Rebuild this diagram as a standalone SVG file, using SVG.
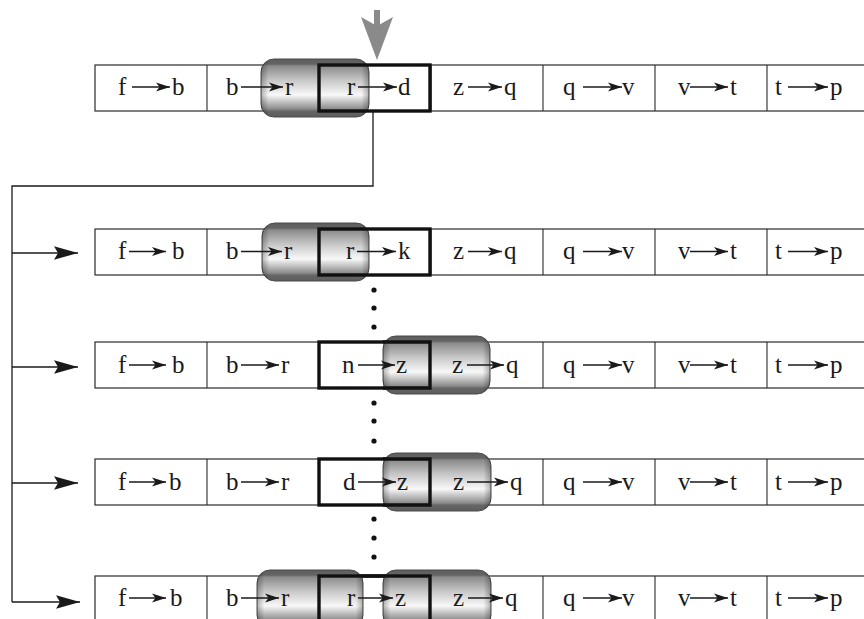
<svg xmlns="http://www.w3.org/2000/svg" width="864" height="619" viewBox="0 0 864 619">
  <defs>
    <style>
      .row { fill: #ffffff; stroke: #2a2a2a; stroke-width: 1.2; }
      .div { stroke: #2a2a2a; stroke-width: 1.1; }
      .cur { fill: none; stroke: #111; stroke-width: 3.4; }
      .shade { fill: url(#metal); stroke: #4a4a4a; stroke-width: 1; }
      .edge { fill: url(#rim); }
      .lbl { font-family: "Liberation Serif", "Times New Roman", serif; font-size: 25px; fill: #1a1a1a; }
      .ar { stroke: #1a1a1a; stroke-width: 1.3; fill: none; marker-end: url(#tip); }
      .link { stroke: #1a1a1a; stroke-width: 1.3; fill: none; }
      .feed { stroke: #1a1a1a; stroke-width: 1.3; fill: none; marker-end: url(#big); }
      .dot { fill: #111; }
    </style>
    <linearGradient id="metal" x1="0" y1="0" x2="0" y2="1">
      <stop offset="0" stop-color="#5c5c5c"/>
      <stop offset="0.09" stop-color="#656565"/>
      <stop offset="0.12" stop-color="#8a8a8a"/>
      <stop offset="0.38" stop-color="#cacaca"/>
      <stop offset="0.62" stop-color="#f8f8f8"/>
      <stop offset="0.86" stop-color="#8c8c8c"/>
      <stop offset="0.9" stop-color="#666666"/>
      <stop offset="1" stop-color="#5c5c5c"/>
    </linearGradient>
    <linearGradient id="rim" x1="0" y1="0" x2="1" y2="0">
      <stop offset="0" stop-color="#000" stop-opacity="0.28"/>
      <stop offset="0.07" stop-color="#000" stop-opacity="0"/>
      <stop offset="0.93" stop-color="#000" stop-opacity="0"/>
      <stop offset="1" stop-color="#000" stop-opacity="0.28"/>
    </linearGradient>
    <marker id="tip" viewBox="-15 -5 16 10" refX="0" refY="0" markerWidth="16" markerHeight="10" markerUnits="userSpaceOnUse" orient="auto">
      <path d="M0,0 L-14,-4.5 L-10.5,0 L-14,4.5 Z" fill="#1a1a1a"/>
    </marker>
    <marker id="big" viewBox="-25 -8 26 16" refX="0" refY="0" markerWidth="26" markerHeight="16" markerUnits="userSpaceOnUse" orient="auto">
      <path d="M0,0 L-24,-6.8 L-20,0 L-24,6.8 Z" fill="#1a1a1a"/>
    </marker>
  </defs>

  <!-- pointer into the first sequence -->
  <g id="pointer">
    <rect x="374" y="10" width="6" height="16" fill="#8a8a8a"/>
    <path d="M377,60 L361,17 L377,26 L393,17 Z" fill="#8a8a8a"/>
  </g>

  <!-- feed lines from the first sequence to each later one -->
  <g id="connectors">
    <path class="link" d="M373,111 V186 H12 V602"/>
    <path class="feed" d="M12,253 H78"/>
    <path class="feed" d="M12,367 H78"/>
    <path class="feed" d="M12,483 H78"/>
    <path class="feed" d="M12,602 H80"/>
    <circle class="dot" cx="374" cy="290" r="2.6"/>
    <circle class="dot" cx="374" cy="308" r="2.6"/>
    <circle class="dot" cx="374" cy="327" r="2.6"/>
    <circle class="dot" cx="374" cy="403" r="2.6"/>
    <circle class="dot" cx="374" cy="421" r="2.6"/>
    <circle class="dot" cx="374" cy="441" r="2.6"/>
    <circle class="dot" cx="374" cy="519" r="2.6"/>
    <circle class="dot" cx="374" cy="538" r="2.6"/>
    <circle class="dot" cx="374" cy="557" r="2.6"/>
  </g>

  <!-- sequence 1 -->
  <g id="seq1" transform="translate(0,65)">
    <rect class="row" x="95" y="0" width="820" height="46"/>
    <path class="div" d="M207,0 V46 M319,0 V46 M431,0 V46 M543,0 V46 M655,0 V46 M767,0 V46"/>
    <rect class="shade" x="261" y="-6" width="108" height="58" rx="13"/>
    <rect class="edge" x="261" y="-6" width="108" height="58" rx="13"/>
    <rect class="cur" x="319" y="0" width="111" height="46"/>
    <text class="lbl" x="118" y="30">f</text><line class="ar" x1="132" y1="22" x2="170" y2="22"/><text class="lbl" x="172" y="30">b</text>
    <text class="lbl" x="226" y="30">b</text><line class="ar" x1="241" y1="22" x2="283" y2="22"/><text class="lbl" x="285" y="30">r</text>
    <text class="lbl" x="347" y="30">r</text><line class="ar" x1="358" y1="22" x2="397" y2="22"/><text class="lbl" x="398" y="30">d</text>
    <text class="lbl" x="453" y="30">z</text><line class="ar" x1="468" y1="22" x2="502" y2="22"/><text class="lbl" x="504" y="30">q</text>
    <text class="lbl" x="563" y="30">q</text><line class="ar" x1="583" y1="22" x2="622" y2="22"/><text class="lbl" x="622" y="30">v</text>
    <text class="lbl" x="678" y="30">v</text><line class="ar" x1="690" y1="22" x2="728" y2="22"/><text class="lbl" x="730" y="30">t</text>
    <text class="lbl" x="775" y="30">t</text><line class="ar" x1="788" y1="22" x2="828" y2="22"/><text class="lbl" x="830" y="30">p</text>
  </g>

  <!-- sequence 2 -->
  <g id="seq2" transform="translate(0,229)">
    <rect class="row" x="95" y="0" width="820" height="46"/>
    <path class="div" d="M207,0 V46 M319,0 V46 M431,0 V46 M543,0 V46 M655,0 V46 M767,0 V46"/>
    <rect class="shade" x="262" y="-6" width="107" height="58" rx="13"/>
    <rect class="edge" x="262" y="-6" width="107" height="58" rx="13"/>
    <rect class="cur" x="319" y="0" width="111" height="46"/>
    <text class="lbl" x="118" y="30">f</text><line class="ar" x1="129" y1="22.5" x2="166" y2="22.5"/><text class="lbl" x="172" y="30">b</text>
    <text class="lbl" x="226" y="30">b</text><line class="ar" x1="241" y1="22.5" x2="282" y2="22.5"/><text class="lbl" x="284" y="30">r</text>
    <text class="lbl" x="346" y="30">r</text><line class="ar" x1="357" y1="22.5" x2="396" y2="22.5"/><text class="lbl" x="398" y="30">k</text>
    <text class="lbl" x="453" y="30">z</text><line class="ar" x1="468" y1="22.5" x2="502" y2="22.5"/><text class="lbl" x="504" y="30">q</text>
    <text class="lbl" x="563" y="30">q</text><line class="ar" x1="583" y1="22.5" x2="622" y2="22.5"/><text class="lbl" x="622" y="30">v</text>
    <text class="lbl" x="678" y="30">v</text><line class="ar" x1="690" y1="22.5" x2="728" y2="22.5"/><text class="lbl" x="730" y="30">t</text>
    <text class="lbl" x="775" y="30">t</text><line class="ar" x1="788" y1="22.5" x2="828" y2="22.5"/><text class="lbl" x="830" y="30">p</text>
  </g>

  <!-- sequence 3 -->
  <g id="seq3" transform="translate(0,342)">
    <rect class="row" x="95" y="0" width="820" height="46"/>
    <path class="div" d="M207,0 V46 M319,0 V46 M431,0 V46 M543,0 V46 M655,0 V46 M767,0 V46"/>
    <rect class="cur" x="319" y="0" width="111" height="46"/>
    <rect class="shade" x="383" y="-6" width="107" height="58" rx="13"/>
    <rect class="edge" x="383" y="-6" width="107" height="58" rx="13"/>
    <path class="cur" d="M383,0 H430 V46 H383"/>
    <text class="lbl" x="118" y="31">f</text><line class="ar" x1="129" y1="23" x2="166" y2="23"/><text class="lbl" x="172" y="31">b</text>
    <text class="lbl" x="226" y="31">b</text><line class="ar" x1="241" y1="23" x2="279" y2="23"/><text class="lbl" x="281" y="31">r</text>
    <text class="lbl" x="342" y="31">n</text><line class="ar" x1="358" y1="23" x2="395" y2="23"/><text class="lbl" x="396" y="31">z</text>
    <text class="lbl" x="452" y="31">z</text><line class="ar" x1="467" y1="23" x2="504" y2="23"/><text class="lbl" x="506" y="31">q</text>
    <text class="lbl" x="563" y="31">q</text><line class="ar" x1="583" y1="23" x2="622" y2="23"/><text class="lbl" x="622" y="31">v</text>
    <text class="lbl" x="678" y="31">v</text><line class="ar" x1="690" y1="23" x2="728" y2="23"/><text class="lbl" x="730" y="31">t</text>
    <text class="lbl" x="775" y="31">t</text><line class="ar" x1="788" y1="23" x2="828" y2="23"/><text class="lbl" x="830" y="31">p</text>
  </g>

  <!-- sequence 4 -->
  <g id="seq4" transform="translate(0,459)">
    <rect class="row" x="95" y="0" width="820" height="46"/>
    <path class="div" d="M207,0 V46 M319,0 V46 M431,0 V46 M543,0 V46 M655,0 V46 M767,0 V46"/>
    <rect class="cur" x="319" y="0" width="111" height="46"/>
    <rect class="shade" x="383" y="-6" width="108" height="58" rx="13"/>
    <rect class="edge" x="383" y="-6" width="108" height="58" rx="13"/>
    <path class="cur" d="M383,0 H430 V46 H383"/>
    <text class="lbl" x="118" y="31">f</text><line class="ar" x1="129" y1="23" x2="166" y2="23"/><text class="lbl" x="169" y="31">b</text>
    <text class="lbl" x="226" y="31">b</text><line class="ar" x1="241" y1="23" x2="279" y2="23"/><text class="lbl" x="281" y="31">r</text>
    <text class="lbl" x="343" y="31">d</text><line class="ar" x1="358" y1="23" x2="396" y2="23"/><text class="lbl" x="397" y="31">z</text>
    <text class="lbl" x="453" y="31">z</text><line class="ar" x1="467" y1="23" x2="508" y2="23"/><text class="lbl" x="510" y="31">q</text>
    <text class="lbl" x="563" y="31">q</text><line class="ar" x1="583" y1="23" x2="622" y2="23"/><text class="lbl" x="622" y="31">v</text>
    <text class="lbl" x="678" y="31">v</text><line class="ar" x1="690" y1="23" x2="728" y2="23"/><text class="lbl" x="730" y="31">t</text>
    <text class="lbl" x="775" y="31">t</text><line class="ar" x1="788" y1="23" x2="828" y2="23"/><text class="lbl" x="830" y="31">p</text>
  </g>

  <!-- sequence 5 -->
  <g id="seq5" transform="translate(0,576)">
    <rect class="row" x="95" y="0" width="820" height="46"/>
    <path class="div" d="M207,0 V46 M319,0 V46 M431,0 V46 M543,0 V46 M655,0 V46 M767,0 V46"/>
    <rect class="cur" x="319" y="0" width="111" height="46"/>
    <rect class="shade" x="257" y="-6" width="106" height="58" rx="13"/>
    <rect class="edge" x="257" y="-6" width="106" height="58" rx="13"/>
    <rect class="shade" x="383" y="-6" width="108" height="58" rx="13"/>
    <rect class="edge" x="383" y="-6" width="108" height="58" rx="13"/>
    <rect class="cur" x="319" y="0" width="111" height="46"/>
    <text class="lbl" x="118" y="30">f</text><line class="ar" x1="129" y1="22" x2="166" y2="22"/><text class="lbl" x="170" y="30">b</text>
    <text class="lbl" x="226" y="30">b</text><line class="ar" x1="241" y1="22" x2="279" y2="22"/><text class="lbl" x="281" y="30">r</text>
    <text class="lbl" x="347" y="30">r</text><line class="ar" x1="358" y1="22" x2="393" y2="22"/><text class="lbl" x="395" y="30">z</text>
    <text class="lbl" x="453" y="30">z</text><line class="ar" x1="468" y1="22" x2="503" y2="22"/><text class="lbl" x="505" y="30">q</text>
    <text class="lbl" x="563" y="30">q</text><line class="ar" x1="583" y1="22" x2="622" y2="22"/><text class="lbl" x="622" y="30">v</text>
    <text class="lbl" x="678" y="30">v</text><line class="ar" x1="690" y1="22" x2="728" y2="22"/><text class="lbl" x="730" y="30">t</text>
    <text class="lbl" x="775" y="30">t</text><line class="ar" x1="788" y1="22" x2="828" y2="22"/><text class="lbl" x="830" y="30">p</text>
  </g>
</svg>
